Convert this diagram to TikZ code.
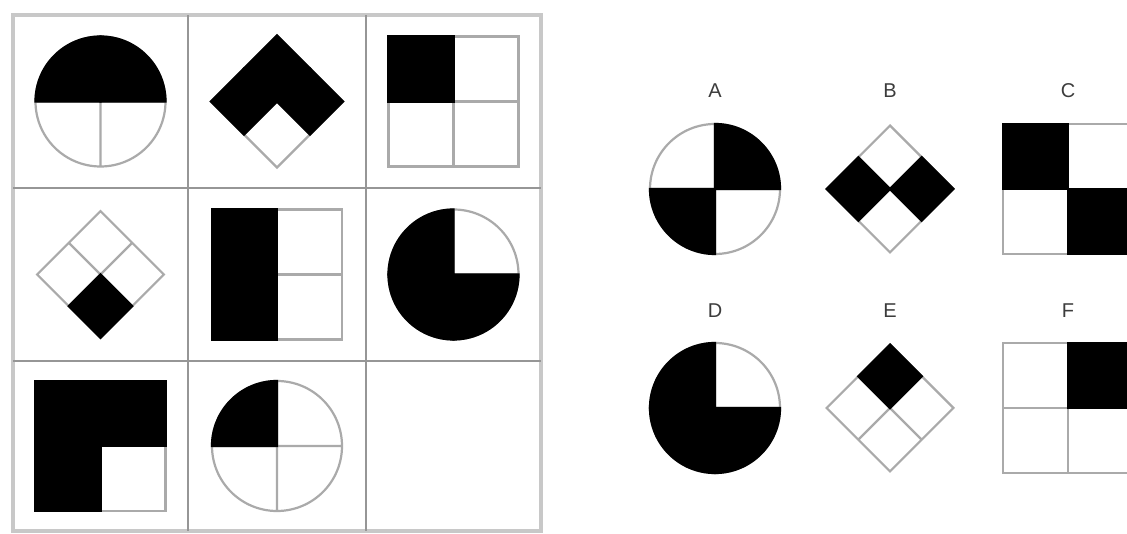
\documentclass[tikz,border=0pt]{standalone}
\usepackage{fontspec}
\setsansfont{Liberation Sans}
\definecolor{framegray}{RGB}{200, 200, 200}
\definecolor{gridgray}{RGB}{150, 150, 150}
\definecolor{linegray}{RGB}{170, 170, 170}
\definecolor{labelgray}{RGB}{60, 60, 60}

% circle cut in four, #2 = start angles of the black quarters
\newcommand{\quadcircle}[2]{%
  \begin{scope}[shift={#1}]
    \draw[shape line] (0,0) circle[radius=65] (-65,0) -- (65,0) (0,-65) -- (0,65);
    \foreach \a in {#2}
      \filldraw[piece] (0,0) -- (\a:65) arc[start angle=\a, delta angle=90, radius=65] -- cycle;
  \end{scope}}

% square cut in four (rotate it for a diamond)
\newcommand{\quadsquare}[3][]{%
  \begin{scope}[shift={#2}, #1]
    \draw[shape line] (-65,-65) rectangle (65,65) (-65,0) -- (65,0) (0,-65) -- (0,65);
    \foreach \a in {#3}
      \filldraw[piece, rotate=\a] (0,0) rectangle (65,65);
  \end{scope}}

\begin{document}
\begin{tikzpicture}[x=1pt, y=1pt,
        frame line/.style={draw=framegray, line width=4pt},
        grid line/.style={draw=gridgray, line width=2pt},
        shape line/.style={draw=linegray, line width=2.2pt},
        piece/.style={fill=black, draw=black, line width=2.2pt},
        option label/.style={font=\fontsize{20}{22}\sffamily, text=labelgray, inner sep=0pt},
        diamond/.style={rotate=-45, scale=0.69}]

            \useasboundingbox[fill=white] (0,0) rectangle (1127,534);

            % The three by three grid
            \draw[frame line] (13,3) rectangle (541,519);
            \foreach \x in {188, 366}
                \draw[grid line] (\x,3) -- (\x,519);
            \foreach \y in {173, 346}
                \draw[grid line] (13,\y) -- (541,\y);

            % First row
            \quadcircle{(100.5,432.5)}{0,90}
            \quadsquare[diamond, scale=1.04]{(277,432.5)}{0,90,180}
            \quadsquare{(453.5,432.5)}{90}

            % Second row
            \quadsquare[diamond]{(100.5,259.5)}{270}
            \quadsquare{(277,259.5)}{90,180}
            \quadcircle{(453.5,259.5)}{90,180,270}

            % Third row, last cell left empty
            \quadsquare{(100.5,88)}{0,90,180}
            \quadcircle{(277,88)}{90}

            % The six answers
            \node[option label] (A) at (715,443) {A};
            \node[option label] (B) at (890,443) {B};
            \node[option label] (C) at (1068,443) {C};
            \node[option label] (D) at (715,223) {D};
            \node[option label] (E) at (890,223) {E};
            \node[option label] (F) at (1068,223) {F};

            \quadcircle{(715,345)}{0,180}
            \quadsquare[diamond]{(890,345)}{0,180}
            \quadsquare{(1068,345)}{90,270}
            \quadcircle{(715,126)}{90,180,270}
            \quadsquare[diamond]{(890,126)}{90}
            \quadsquare{(1068,126)}{0}

    \end{tikzpicture}
\end{document}
